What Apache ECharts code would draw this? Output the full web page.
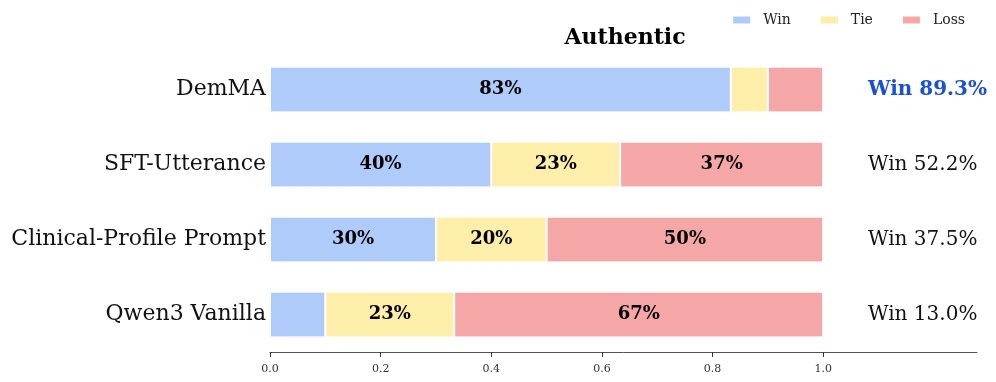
<!DOCTYPE html>
<html>
<head>
<meta charset="utf-8">
<style>
  html, body { margin: 0; padding: 0; background: #fff; }
  #chart { width: 996px; height: 382px; }
</style>
<script src="https://cdn.jsdelivr.net/npm/echarts@6/dist/echarts.min.js"></script>
</head>
<body>
<div id="chart"></div>
<script>
  const models = ['DemMA', 'SFT-Utterance', 'Clinical-Profile Prompt', 'Qwen3 Vanilla'];
  const winShare = [0.833, 0.400, 0.300, 0.100];
  const tieShare = [0.067, 0.233, 0.200, 0.233];
  const lossShare = [0.100, 0.367, 0.500, 0.667];
  const winRate = ['Win 89.3%', 'Win 52.2%', 'Win 37.5%', 'Win 13.0%'];
  const xTicks = [0, 0.2, 0.4, 0.6, 0.8, 1.0];

  const serif = 'DejaVu Serif';
  const chart = echarts.init(document.getElementById('chart'));

  function segLabel(v) {
    return v >= 0.15 ? Math.round(v * 100) + '%' : '';
  }

  function barSeries(name, data, color) {
    return {
      name: name,
      type: 'bar',
      stack: 'total',
      barWidth: '61%',
      data: data,
      itemStyle: { color: color, borderColor: '#fff', borderWidth: 1 },
      label: {
        show: true,
        position: 'inside',
        color: '#000',
        fontFamily: serif,
        fontWeight: 'bold',
        fontSize: 18,
        formatter: (p) => segLabel(p.value)
      }
    };
  }

  chart.setOption({
    animation: false,
    title: {
      text: 'Authentic',
      left: 620,
      top: 22,
      textAlign: 'center',
      textStyle: { fontFamily: serif, fontWeight: 'bold', fontSize: 22, color: '#000' }
    },
    legend: {
      top: 8,
      right: 26,
      itemWidth: 19,
      itemHeight: 9,
      itemGap: 28,
      icon: 'rect',
      textStyle: { fontFamily: serif, fontSize: 14, color: '#222', padding: [0, 0, 0, 7] },
      data: ['Win', 'Tie', 'Loss']
    },
    grid: { left: 270, right: 19, top: 52, bottom: 30, containLabel: false },
    xAxis: {
      type: 'value',
      min: 0,
      max: 1.278,
      splitLine: { show: false },
      axisLine: { show: true, lineStyle: { color: '#555', width: 1 } },
      axisTick: { show: true, customValues: xTicks, length: 5, lineStyle: { color: '#333' } },
      axisLabel: {
        customValues: xTicks,
        fontFamily: serif,
        fontSize: 11,
        color: '#333',
        margin: 12,
        formatter: (v) => v.toFixed(1)
      }
    },
    yAxis: {
      type: 'category',
      inverse: true,
      data: models,
      axisLine: { show: false },
      axisTick: { show: false },
      axisLabel: { fontFamily: serif, fontSize: 22, color: '#111', margin: 4 }
    },
    series: [
      barSeries('Win', winShare, '#aecbfa'),
      barSeries('Tie', tieShare, '#fdeeaa'),
      barSeries('Loss', lossShare, '#f5a6a6'),
      {
        name: 'winRate',
        type: 'scatter',
        symbolSize: 0,
        silent: true,
        itemStyle: { opacity: 1 },
        data: models.map((m, i) => ({
          value: [1.081, m],
          label: i === 0
            ? { fontWeight: 'bold', color: '#1a4fd8' }
            : { fontWeight: 'normal', color: '#111' }
        })),
        label: {
          show: true,
          position: 'right',
          distance: 0,
          fontFamily: serif,
          fontSize: 20,
          formatter: (p) => winRate[p.dataIndex]
        }
      }
    ]
  });
</script>
</body>
</html>
